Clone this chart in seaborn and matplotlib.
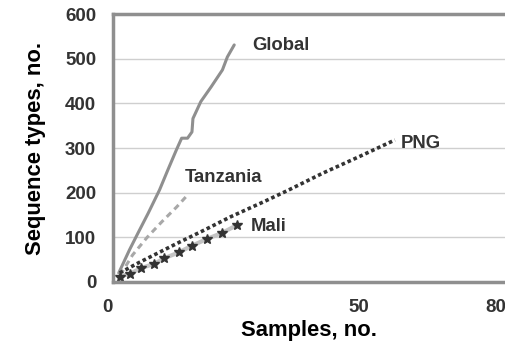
import matplotlib
matplotlib.use("Agg")
import matplotlib.pyplot as plt
import seaborn as sns
import pandas as pd

global_x = [1.2, 3.4, 5.1, 7.2, 9.5, 11.2, 12.9, 14.0, 15.2, 16.1, 16.3, 17.9, 20.0, 22.3, 23.3, 24.7]
global_y = [20, 72, 109, 154, 206, 251, 295, 322, 322, 336, 366, 404, 437, 475, 504, 531]

tanzania_x = [1.5, 4.0, 7.0, 10.0, 13.0, 14.9]
tanzania_y = [15, 60, 100, 135, 168, 191]

png_x = [1.4, 5.1, 13.2, 18.6, 24.0, 30.8, 35.8, 42.6, 50.0, 57.4]
png_y = [20, 42, 87, 116, 146, 180, 206, 243, 280, 318]

mali_x = [1.4, 3.4, 5.8, 8.3, 10.5, 13.4, 16.1, 19.1, 22.3, 25.2]
mali_y = [12, 18, 31, 40, 53, 66, 81, 96, 110, 127]

labels = ["Global", "Tanzania", "PNG", "Mali"]
label_pos = [(28.3, 530), (14.6, 235), (58.5, 311), (28.1, 125)]

y_ticks = [0, 100, 200, 300, 400, 500, 600]
x_ticks = [0, 50, 80]

sns.set_style("white")
plt.rcParams['font.family'] = ['Liberation Sans', 'DejaVu Sans']

fig = plt.figure(figsize=(5.06, 3.45), dpi=100)
ax = fig.add_axes([0.223, 0.183, 0.777, 0.776])

tick_col = "#333333"
sns.lineplot(x=global_x, y=global_y, ax=ax, sort=False, color="#8f8f8f", lw=2.2, estimator=None)
sns.lineplot(x=tanzania_x, y=tanzania_y, ax=ax, sort=False, color="#a8a8a8", lw=2.2,
             linestyle=(0, (2, 1.5)), estimator=None)
sns.lineplot(x=png_x, y=png_y, ax=ax, sort=False, color="#333333", lw=2.6,
             linestyle=(0, (1, 0.8)), estimator=None)
sns.lineplot(x=mali_x, y=mali_y, ax=ax, sort=False, color="#c4c4c4", lw=3, estimator=None)
ax.plot(mali_x, mali_y, ls="none", marker="*", ms=7.5, color="#333333")

for lab, (lx, ly) in zip(labels, label_pos):
    ax.text(lx, ly, lab, fontsize=13.3, fontweight="bold", color="#333333", va="center", ha="left")

ax.set_xlim(0, 80)
ax.set_ylim(0, 600)
ax.set_yticks(y_ticks)
ax.set_xticks(x_ticks)
ax.set_yticklabels([str(v) for v in y_ticks], fontsize=13.5, fontweight="bold", color=tick_col)
xl = ax.set_xticklabels([str(v) for v in x_ticks], fontsize=13.5, fontweight="bold", color=tick_col)
xl[0].set_ha("right")
xl[-1].set_ha("right")
ax.grid(axis="y", color="#cfcfcf", lw=1)
ax.tick_params(axis="y", length=10, color="#cfcfcf", pad=2)
ax.tick_params(axis="x", length=5, color="#cfcfcf", pad=7)

for s in ["left", "bottom", "top"]:
    ax.spines[s].set_color("#8f8f8f")
    ax.spines[s].set_linewidth(2.5)
ax.spines["right"].set_visible(False)

ax.set_xlabel("Samples, no.", fontsize=15.8, fontweight="bold", color="black", labelpad=3)
ax.set_ylabel("Sequence types, no.", fontsize=15.8, fontweight="bold", color="black", labelpad=14)

fig.savefig("out.png", dpi=100)
